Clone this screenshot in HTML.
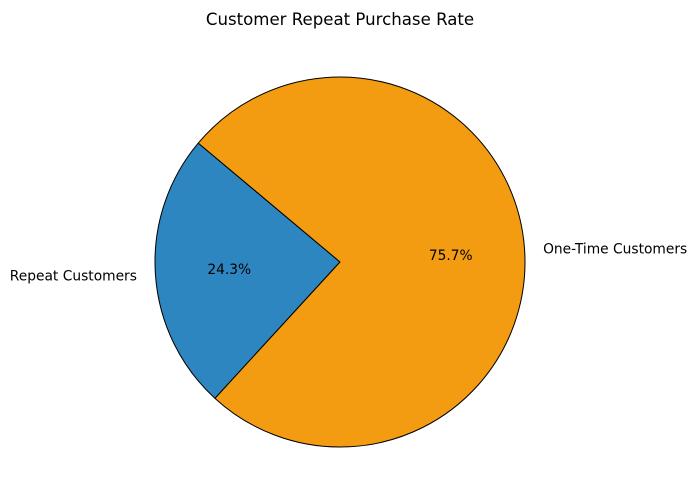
<!DOCTYPE html>
<html>
<head>
<meta charset="utf-8">
<style>
  html,body{margin:0;padding:0;background:#fff;}
  svg{display:block;font-family:"DejaVu Sans","Liberation Sans",sans-serif;}
</style>
</head>
<body>
<svg id="chart" width="698" height="504" viewBox="0 0 698 504">
  <text x="340" y="25" text-anchor="middle" font-size="16.6" fill="#000">Customer Repeat Purchase Rate</text>
  <g id="slices"></g>
  <g id="labels"></g>
</svg>
<script>
const categories = ["Repeat Customers", "One-Time Customers"];
const values = [24.3, 75.7];
const colors = ["#2e86c1", "#f39c12"];
const startAngle = 140;

const cx = 340, cy = 262, r = 185;
const NS = "http://www.w3.org/2000/svg";
const slicesG = document.getElementById("slices");
const labelsG = document.getElementById("labels");
const total = values.reduce((a, b) => a + b, 0);
function pt(angDeg, rad) {
  const a = angDeg * Math.PI / 180;
  return [cx + rad * Math.cos(a), cy - rad * Math.sin(a)];
}
let ang = startAngle;
values.forEach((v, i) => {
  const sweep = v / total * 360;
  const a0 = ang, a1 = ang + sweep;
  const p0 = pt(a0, r), p1 = pt(a1, r);
  const large = sweep > 180 ? 1 : 0;
  const path = document.createElementNS(NS, "path");
  path.setAttribute("d", `M${cx},${cy} L${p0[0]},${p0[1]} A${r},${r} 0 ${large} 0 ${p1[0]},${p1[1]} Z`);
  path.setAttribute("fill", colors[i]);
  path.setAttribute("stroke", "#000");
  path.setAttribute("stroke-width", "1");
  path.setAttribute("stroke-linejoin", "round");
  
  
  slicesG.appendChild(path);

  const mid = (a0 + a1) / 2;
  const lp = pt(mid, r * 1.1);
  const cosm = Math.cos(mid * Math.PI / 180);
  const lab = document.createElementNS(NS, "text");
  lab.setAttribute("x", lp[0]);
  lab.setAttribute("y", lp[1] + 5);
  lab.setAttribute("text-anchor", cosm < 0 ? "end" : "start");
  lab.setAttribute("font-size", "13.8");
  lab.textContent = categories[i];
  
  
  labelsG.appendChild(lab);

  const pp = pt(mid, r * 0.6);
  const pct = document.createElementNS(NS, "text");
  pct.setAttribute("x", pp[0]);
  pct.setAttribute("y", pp[1] + 5);
  pct.setAttribute("text-anchor", "middle");
  pct.setAttribute("font-size", "13.8");
  pct.textContent = (v / total * 100).toFixed(1) + "%";
  
  
  labelsG.appendChild(pct);

  ang = a1;
});
</script>
</body>
</html>
